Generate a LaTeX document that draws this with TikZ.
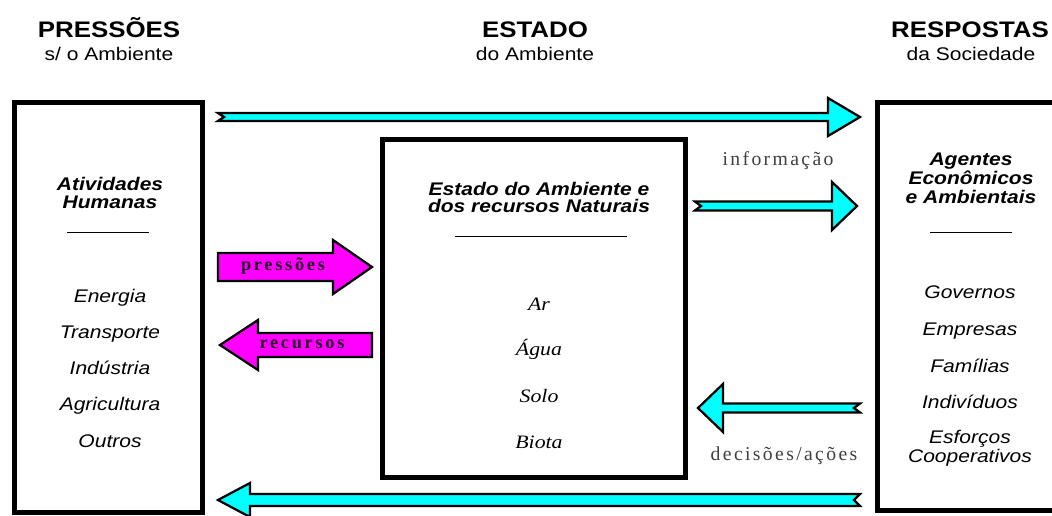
\documentclass[tikz,border=0pt]{standalone}
\usepackage{fontspec}
\setmainfont{Liberation Sans}
\newfontfamily\arialx{Liberation Sans}[FakeStretch=1.15]
\newfontfamily\timesx{Liberation Serif}[FakeStretch=1.15]
\newfontfamily\timesls{Liberation Serif}[LetterSpace=12]
\newfontfamily\timeslsw{Liberation Serif}[LetterSpace=15]
\usepackage{tikz}
\usetikzlibrary{calc,positioning}

\definecolor{acyan}{RGB}{0,255,255}
\definecolor{amag}{RGB}{255,0,255}

\tikzset{
  box/.style={draw=black,line width=3.5pt,rectangle,inner sep=0pt},
  head/.style={font=\arialx\bfseries\fontsize{16}{18}\selectfont,anchor=base},
  subhead/.style={font=\arialx\fontsize{13}{15}\selectfont,anchor=base},
  ttl/.style={font=\arialx\bfseries\itshape\fontsize{13}{15}\selectfont,anchor=base},
  item/.style={font=\arialx\itshape\fontsize{13}{15}\selectfont,anchor=base},
  elem/.style={font=\timesx\itshape\fontsize{13.5}{15}\selectfont,anchor=base},
  lbl/.style={font=\timesls\fontsize{14}{16}\selectfont,text=black!75,anchor=base},
  plbl/.style={font=\timeslsw\bfseries\fontsize{13}{15}\selectfont,text=black!85!amag,anchor=base},
  cyanarrow/.style={draw=black,fill=acyan,line width=1.6pt},
  magarrow/.style={draw=black,fill=amag,line width=1.6pt}
}

% [style]{tail}{tip}{shaft half}{head half}{head length}{notch}
\newcommand{\blockarrow}[7][]{%
  \draw[#1] ($(#2)+(0,#4)$) -- ($(#3)+({-(#6)},#4)$) -- ($(#3)+({-(#6)},#5)$) -- (#3)
    -- ($(#3)+({-(#6)},{-(#5)})$) -- ($(#3)+({-(#6)},{-(#4)})$) -- ($(#2)+(0,{-(#4)})$)
    -- ($(#2)+(#7,0)$) -- cycle;}

\begin{document}
\begin{tikzpicture}[x=0.025cm,y=-0.025cm]
\useasboundingbox (0,0) rectangle (1052,515);

% column heads
\node[head] (hpress) at (109,37) {PRESSÕES};
\node[subhead] (spress) at (109,60) {s/ o Ambiente};
\node[head] (hest) at (535,37) {ESTADO};
\node[subhead] (sest) at (535,60) {do Ambiente};
\node[head] (hresp) at (970,37) {RESPOSTAS};
\node[subhead] (sresp) at (971,60) {da Sociedade};

% boxes
\node[box,minimum width=4.7cm,minimum height=10.24cm] (lbox) at (108.5,307.25) {};
\node[box,minimum width=7.575cm,minimum height=8.45cm] (mbox) at (534,308.5) {};
\node[box,minimum width=4.5625cm,minimum height=10.2cm] (rbox) at (968.75,306.5) {};

% left box
\node[ttl] (lt1) at (110,190) {Atividades};
\node[ttl] (lt2) at (110,208) {Humanas};
\node[anchor=base,inner sep=0pt] (lrule) at (108,233) {\rule{2.03cm}{0.9pt}};
\foreach \yy/\txt [count=\i] in {302/Energia,338/Transporte,374.5/Indústria,410.5/Agricultura,447/Outros}
  \node[item] (la\i) at (110,\yy) {\txt};

% middle box
\node[ttl] (mt1) at (539,195) {Estado do Ambiente e};
\node[ttl] (mt2) at (539,212) {dos recursos Naturais};
\node[anchor=base,inner sep=0pt] (mrule) at (541,237) {\rule{4.3cm}{0.9pt}};
\foreach \yy/\txt [count=\i] in {310/Ar,355/Água,402/Solo,448/Biota}
  \node[elem] (ma\i) at (539,\yy) {\txt};

% right box
\node[ttl] (rt1) at (971,165) {Agentes};
\node[ttl] (rt2) at (971,184) {Econômicos};
\node[ttl] (rt3) at (971,203) {e Ambientais};
\node[anchor=base,inner sep=0pt] (rrule) at (971,233) {\rule{2.05cm}{0.9pt}};
\foreach \yy/\txt [count=\i] in {298/Governos,335/Empresas,372/Famílias,408/Indivíduos,443/Esforços,462/Cooperativos}
  \node[item] (ra\i) at (970,\yy) {\txt};

% arrow ends
\coordinate (topa) at (218,117);
\coordinate (topb) at (860,117);
\coordinate (infa) at (695,206);
\coordinate (infb) at (857,206);
\coordinate (pra) at (218,267);
\coordinate (prb) at (372,267);
\coordinate (rea) at (372,345);
\coordinate (reb) at (220,345);
\coordinate (dea) at (860,408);
\coordinate (deb) at (698,408);
\coordinate (bota) at (860,500);
\coordinate (botb) at (218,500);

\blockarrow[cyanarrow]{topa}{topb}{4}{19}{32}{6}
\blockarrow[cyanarrow]{infa}{infb}{4.5}{24}{25}{6}
\blockarrow[magarrow]{pra}{prb}{14}{27}{39}{0}
\blockarrow[magarrow]{rea}{reb}{12}{25}{-38}{0}
\blockarrow[cyanarrow]{dea}{deb}{4.5}{24}{-25}{-6}
\blockarrow[cyanarrow]{bota}{botb}{6}{17}{-32}{-6}

% labels
\node[lbl] (linfo) at (778,165) {informação};
\node[lbl] (ldec) at (784,460) {decisões/ações};
\node[plbl] (lpress) at (283,270) {pressões};
\node[plbl] (lrec) at (302,348) {recursos};
\end{tikzpicture}
\end{document}
